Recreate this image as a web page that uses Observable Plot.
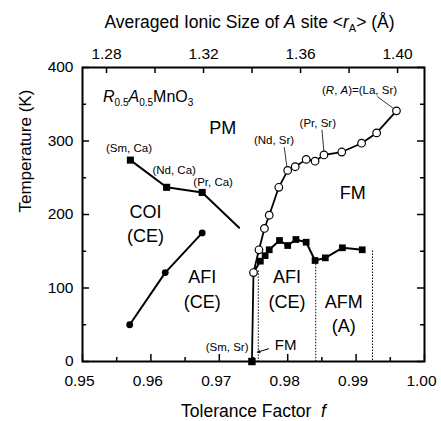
<!DOCTYPE html>
<html><head><meta charset="utf-8">
<script src="https://cdn.jsdelivr.net/npm/d3@7"></script>
<script src="https://cdn.jsdelivr.net/npm/@observablehq/plot@0.6"></script>
<style>body{margin:0;background:#fff;}</style>
</head><body><div id="chart"></div>
<script>
// ---- axis ticks ----
const fTicks = [0.95, 0.96, 0.97, 0.98, 0.99, 1.00];
const fMinor = [0.955, 0.965, 0.975, 0.985, 0.995];
const tTicks = [0, 100, 200, 300, 400];
const tMinor = [50, 150, 250, 350];
const rTicks = [1.28, 1.32, 1.36, 1.40];
const rMinor = [1.30, 1.34, 1.38];
const rDomain = [1.2701, 1.4111];          // top axis <rA> range spanning f 0.95 .. 1.00

// ---- (R, Ca) series: CO transition (squares) ----
const caF = [0.9570, 0.9623, 0.9675, 0.9729];
const caT = [274, 237, 230, 182];
const caMarked = [true, true, true, false];
// ---- (R, Ca) series: AFI transition (filled circles) ----
const afiF = [0.9569, 0.9621, 0.9675];
const afiT = [50, 121, 175];
// ---- (R, Sr) series: FM transition (open circles) ----
const srFmF = [0.97477, 0.9750, 0.9758, 0.9766, 0.9773, 0.9787, 0.9800, 0.9811, 0.9827, 0.9840, 0.9853, 0.9879, 0.9908, 0.9930, 0.9959];
const srFmT = [0, 121, 152, 181, 199, 237, 260, 265, 275, 272.5, 281, 285, 297, 311, 341];
// ---- (R, Sr) series: AF transition (filled squares) ----
const srAfF = [0.9750, 0.9760, 0.9767, 0.9773, 0.9788, 0.9800, 0.9812, 0.9827, 0.9840, 0.9855, 0.9880, 0.9909];
const srAfT = [121, 136.5, 144, 152, 164.6, 157.8, 166, 162.3, 137.4, 141, 154.7, 152];
// ---- (Sm, Sr) point ----
const smSrF = [0.97477];
const smSrT = [0];
// ---- dotted phase boundaries ----
const dotF = [0.9757, 0.9841, 0.9924];
const dotT = [124, 137, 151];

// ---- region labels ----
const regText = ["PM", "COI", "(CE)", "AFI", "(CE)", "FM", "AFI", "(CE)", "AFM", "(A)"];
const regF = [0.9705, 0.9592, 0.9592, 0.9675, 0.9675, 0.9895, 0.9799, 0.9799, 0.9882, 0.9882];
const regT = [317, 203, 170, 114, 80, 229, 114, 81, 81, 48];
// ---- compound labels ----
const cmpText = ["(Sm, Ca)", "(Nd, Ca)", "(Pr, Ca)", "(Nd, Sr)", "(Pr, Sr)", "(R, A)=(La, Sr)"];
const cmpF = [0.9568, 0.9634, 0.9691, 0.9780, 0.9844, 0.9905];
const cmpT = [290, 260, 243.5, 300.7, 323.8, 368.7];
// leader lines
const leadF1 = [0.9795, 0.9850, 0.9931];
const leadT1 = [291.6, 315.2, 360.5];
const leadF2 = [0.9799, 0.9853, 0.9955];
const leadT2 = [263, 286, 344];
// (Sm, Sr) label and small FM label
const smLabF = [0.97427], smLabT = [19];
const fmSmallF = [0.9797], fmSmallT = [22];
const arrF1 = [0.9772], arrT1 = [17.3], arrF2 = [0.9756], arrT2 = [12.7];
// formula label
const formulaF = [0.9530], formulaT = [360];

const W = 441, H = 421, mL = 82, mR = 17, mT = 67, mB = 60;
const pw = W - mL - mR, ph = H - mT - mB;
const rToF = r => 0.95 + (r - rDomain[0]) / (rDomain[1] - rDomain[0]) * 0.05;
const FONT = "'Liberation Sans', Arial, Helvetica, sans-serif";
const idx = n => d3.range(n);

const plot = Plot.plot({
  width: W, height: H,
  marginLeft: mL, marginRight: mR, marginTop: mT, marginBottom: mB,
  style: {fontFamily: FONT, fontSize: "16px", background: "#fff", color: "#000"},
  x: {domain: [0.95, 1.00], axis: null},
  y: {domain: [0, 400], axis: null},
  marks: [
    // ticks (inward)
    Plot.tickX(fTicks, {x: d => d, insetTop: ph - 7, strokeWidth: 1.5}),
    Plot.tickX(fMinor, {x: d => d, insetTop: ph - 4, strokeWidth: 1.5}),
    Plot.tickX(rTicks.concat(rMinor), {x: rToF, insetBottom: ph - 6, strokeWidth: 1.5}),
    Plot.tickY(tTicks, {y: d => d, insetRight: pw - 7, strokeWidth: 1.5}),
    Plot.tickY(tMinor, {y: d => d, insetRight: pw - 4, strokeWidth: 1.5}),
    Plot.tickY(tTicks, {y: d => d, insetLeft: pw - 7, strokeWidth: 1.5}),
    Plot.tickY(tMinor, {y: d => d, insetLeft: pw - 4, strokeWidth: 1.5}),
    // tick labels
    Plot.text(fTicks, {x: d => d, frameAnchor: "bottom", lineAnchor: "middle", dy: 20, dx: -3, text: d => d.toFixed(2), fontSize: 15.5}),
    Plot.text(tTicks, {y: d => d, frameAnchor: "left", lineAnchor: "middle", dx: -9, textAnchor: "end", text: d => String(d), fontSize: 15.5}),
    Plot.text(rTicks, {x: rToF, frameAnchor: "top", lineAnchor: "middle", dy: -13, text: d => d.toFixed(2), fontSize: 15.5}),
    // axis titles
    Plot.text(["TOPTITLE"], {frameAnchor: "top", lineAnchor: "middle", dy: -45, dx: -4, text: d => d, fontSize: 17.5}),
    Plot.text(["BOTTITLE"], {frameAnchor: "bottom", lineAnchor: "middle", dy: 50, text: d => d, fontSize: 17.5}),
    Plot.text(["Temperature (K)"], {frameAnchor: "left", lineAnchor: "middle", dx: -57, dy: -2, rotate: -90, text: d => d, fontSize: 17}),
    // dotted boundaries
    Plot.link(idx(dotF.length), {x1: i => dotF[i], x2: i => dotF[i], y1: i => dotT[i], y2: 0, stroke: "#000", strokeWidth: 1, strokeDasharray: "1.5,1.5"}),
    // lines
    Plot.line(idx(caF.length), {x: i => caF[i], y: i => caT[i], stroke: "#000", strokeWidth: 2}),
    Plot.line(idx(afiF.length), {x: i => afiF[i], y: i => afiT[i], stroke: "#000", strokeWidth: 2}),
    Plot.line(idx(srAfF.length), {x: i => srAfF[i], y: i => srAfT[i], stroke: "#000", strokeWidth: 2}),
    Plot.line(idx(srFmF.length), {x: i => srFmF[i], y: i => srFmT[i], stroke: "#000", strokeWidth: 1.8}),
    // leaders
    Plot.link(idx(leadF1.length), {x1: i => leadF1[i], y1: i => leadT1[i], x2: i => leadF2[i], y2: i => leadT2[i], stroke: "#000", strokeWidth: 0.8}),
    Plot.arrow(idx(1), {x1: i => arrF1[i], y1: i => arrT1[i], x2: i => arrF2[i], y2: i => arrT2[i], stroke: "#000", strokeWidth: 1, headLength: 4}),
    // markers
    Plot.dot(idx(caF.length).filter(i => caMarked[i]), {x: i => caF[i], y: i => caT[i], symbol: "square", r: 4, fill: "#000"}),
    Plot.dot(idx(afiF.length), {x: i => afiF[i], y: i => afiT[i], r: 3.4, fill: "#000"}),
    Plot.dot(idx(srAfF.length).slice(1), {x: i => srAfF[i], y: i => srAfT[i], symbol: "square", r: 3.8, fill: "#000"}),
    Plot.dot(idx(srFmF.length).slice(1), {x: i => srFmF[i], y: i => srFmT[i], r: 3.8, fill: "#fff", stroke: "#000", strokeWidth: 1.2}),
    Plot.dot(idx(smSrF.length), {x: i => smSrF[i], y: i => smSrT[i], symbol: "square", r: 4.2, fill: "#000"}),
    // frame
    Plot.frame({stroke: "#000", strokeWidth: 2}),
    // region labels
    Plot.text(idx(regText.length), {x: i => regF[i], y: i => regT[i], text: i => regText[i], fontSize: 18}),
    Plot.text(idx(fmSmallF.length), {x: i => fmSmallF[i], y: i => fmSmallT[i], text: () => "FM", fontSize: 15}),
    Plot.text(idx(cmpText.length), {x: i => cmpF[i], y: i => cmpT[i], text: i => cmpText[i], fontSize: 11.5}),
    Plot.text(idx(smLabF.length), {x: i => smLabF[i], y: i => smLabT[i], text: () => "(Sm, Sr)", textAnchor: "end", fontSize: 11.5}),
    Plot.text(idx(formulaF.length), {x: i => formulaF[i], y: i => formulaT[i], text: () => "FORMULA", textAnchor: "start", fontSize: 16})
  ]
});

// rich text helper (italics / subscripts as tspans)
function rich(svg, key, parts) {
  const t = d3.select(svg).selectAll("text").filter(function() { return this.textContent === key; });
  t.text(null);
  let shifted = false;
  for (const p of parts) {
    const ts = t.append("tspan").text(p.t);
    if (p.i) ts.attr("font-style", "italic");
    if (p.sub) {
      ts.attr("font-size", p.fs || 10);
      if (!shifted) ts.attr("dy", 4);
      shifted = true;
    } else if (shifted) {
      ts.attr("dy", -4);
      shifted = false;
    }
  }
}
rich(plot, "TOPTITLE", [{t: "Averaged Ionic Size of "}, {t: "A", i: true}, {t: " site <"}, {t: "r", i: true}, {t: "A", sub: true, fs: 11}, {t: "> (Å)"}]);
rich(plot, "BOTTITLE", [{t: "Tolerance Factor  "}, {t: "f", i: true}]);
rich(plot, "FORMULA", [{t: "R", i: true}, {t: "0.5", sub: true}, {t: "A", i: true}, {t: "0.5", sub: true}, {t: "MnO"}, {t: "3", sub: true}]);
rich(plot, "(R, A)=(La, Sr)", [{t: "("}, {t: "R", i: true}, {t: ", "}, {t: "A", i: true}, {t: ")=(La, Sr)"}]);

document.getElementById("chart").appendChild(plot);
</script>
</body></html>
